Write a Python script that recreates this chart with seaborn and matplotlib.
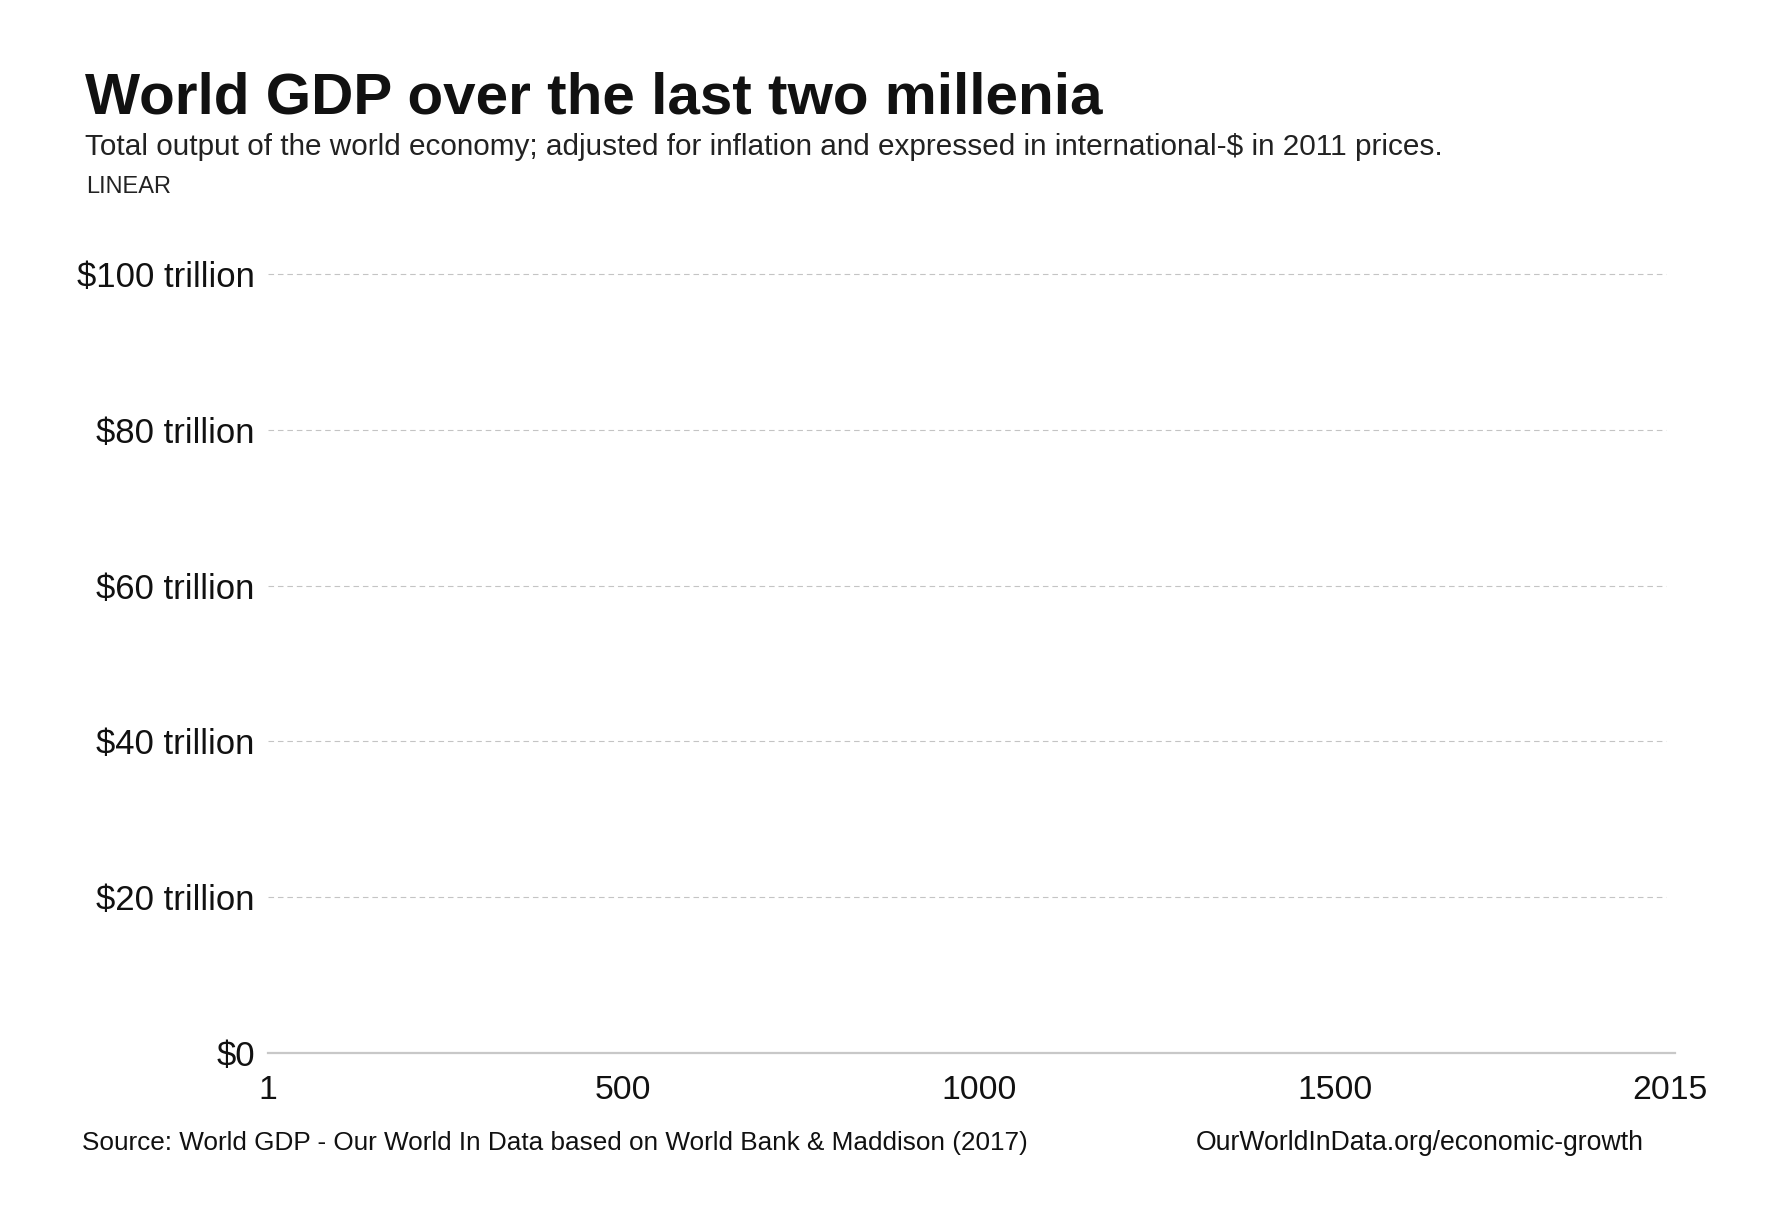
import matplotlib
matplotlib.use("Agg")
import matplotlib.pyplot as plt
import seaborn as sns
import pandas as pd

# ---- data (the reference chart shows no plotted series) ----
years = []
gdp_trillions = []
x_tick_values = [1, 500, 1000, 1500, 1970]
x_tick_labels = ["1", "500", "1000", "1500", "2015"]
y_tick_values = [0, 20, 40, 60, 80, 100]
y_tick_labels = ["$0", "$20 trillion", "$40 trillion", "$60 trillion",
                 "$80 trillion", "$100 trillion"]
x_range = (1, 1977)
y_range = (0, 100)

title = "World GDP over the last two millenia"
subtitle = ("Total output of the world economy; adjusted for inflation and "
            "expressed in international-$ in 2011 prices.")
scale_label = "LINEAR"
source = "Source: World GDP - Our World In Data based on World Bank & Maddison (2017)"
url = "OurWorldInData.org/economic-growth"

sns.set_theme(style="white")
plt.rcParams['font.family'] = ['Liberation Sans', 'DejaVu Sans']

W, H = 1776, 1212
fig = plt.figure(figsize=(W / 100, H / 100), dpi=100)
fig.patch.set_facecolor("white")

left, right = 268 / W, 1675 / W
bottom, top = (H - 1053) / H, (H - 274) / H
ax = fig.add_axes([left, bottom, right - left, top - bottom])

df = pd.DataFrame({"year": pd.Series(years, dtype=float),
                   "gdp": pd.Series(gdp_trillions, dtype=float)})
sns.lineplot(data=df, x="year", y="gdp", ax=ax, color="#3360a9")

ax.set_xlim(*x_range)
ax.set_ylim(*y_range)
ax.set_xticks(x_tick_values, x_tick_labels)
ax.set_yticks(y_tick_values, y_tick_labels)
ax.set_xlabel("")
ax.set_ylabel("")

for s in ["top", "right", "left"]:
    ax.spines[s].set_visible(False)
ax.spines["bottom"].set_color("#c8c8c8")
ax.spines["bottom"].set_linewidth(1.6)
ax.set_facecolor("white")

ax.tick_params(axis="both", length=0, labelcolor="#111111")
ax.tick_params(axis="x", pad=15.5, labelsize=24.3)
ax.tick_params(axis="y", pad=9.5, labelsize=25)

# dashed horizontal gridlines (excluding the baseline)
for yv in y_tick_values[1:]:
    ax.axhline(yv, xmin=0, xmax=(1666 - 268) / (1675 - 268),
               color="#c4c4c4", linewidth=0.8, linestyle=(0, (5, 3.5)),
               zorder=0, clip_on=False)

# titles
fig.text(85 / W, 1 - 113 / H, title, fontsize=42, fontweight="bold",
         color="#111111", ha="left", va="baseline")
fig.text(85 / W, 1 - 155 / H, subtitle, fontsize=21.4, color="#222222",
         ha="left", va="baseline")
fig.text(86 / W, 1 - 193 / H, scale_label, fontsize=17, color="#222222",
         ha="left", va="baseline")

# footer
fig.text(82 / W, 1 - 1150 / H, source, fontsize=18.8, color="#111111",
         ha="left", va="baseline")
fig.text(1644 / W, 1 - 1150 / H, url, fontsize=19.2, color="#111111",
         ha="right", va="baseline")

fig.savefig("out.png", dpi=100, facecolor="white")
